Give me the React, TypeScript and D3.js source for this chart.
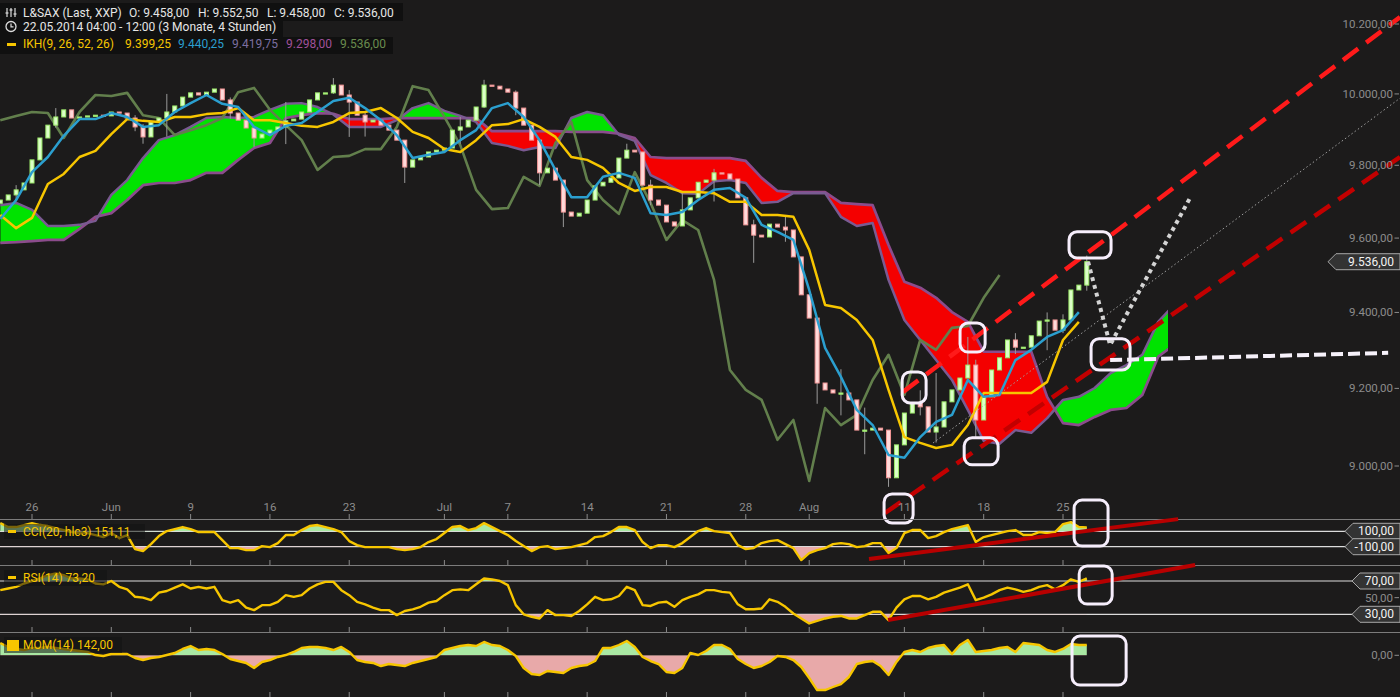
import { useMemo } from 'react'
import * as d3 from 'd3'

// Ichimoku (IKH) chart of the L&S DAX indication, 4h bars, with CCI / RSI / MOM panes below.
// Day index 0 = Mon 26.05.2014; candles are sampled every half session day starting Thu 22.05.

const W = 1400
const H = 697

const CANDLE_FROM = -2
const CANDLE_STEP = 0.5
const FIRST_OPEN = 9695
const closes = [
  9704, 9718, 9732, 9751,
  9815, 9876, 9912, 9935, 9955, 9932, 9935, 9938, 9940, 9938,
  9949, 9946, 9932, 9907, 9879, 9921, 9932, 9949, 9966, 9991,
  10003, 9997, 10005, 10014, 9983, 9946, 9926, 9904, 9876, 9887,
  9898, 9907, 9924, 9929, 9949, 9983, 10003, 10003, 10025, 9997,
  9977, 9940, 9921, 9926, 9912, 9898, 9870, 9795, 9815, 9823,
  9837, 9842, 9848, 9898, 9907, 9926, 9963, 10025, 10022, 10014,
  10005, 9960, 9912, 9870, 9779, 9792, 9759, 9671, 9660, 9668,
  9704, 9743, 9753, 9765, 9820, 9842, 9837, 9745, 9704, 9690,
  9644, 9633, 9677, 9710, 9753, 9759, 9779, 9776, 9762, 9710,
  9636, 9608, 9603, 9638, 9630, 9622, 9549, 9447, 9385, 9214,
  9196, 9188, 9188, 9170, 9092, 9092, 9097, 9092, 8970, 9054,
  9136, 9162, 9152, 9087, 9100, 9165, 9196, 9227, 9261, 9118,
  9178, 9248, 9280, 9327, 9308, 9308, 9338, 9377, 9380, 9353,
  9380, 9460, 9473, 9536,
]
// [day, high, low] for the candles whose shadows stand out
const wicks: [number, number, number][] = [
  [-1, 9745, 9700], [1.5, 9960, 9905], [6.5, 9940, 9895], [7, 9915, 9860],
  [8.5, 10000, 9880], [12.5, 9990, 9930], [14, 9905, 9850], [16, 9977, 9859],
  [19, 10045, 10000], [20, 10011, 9879], [21, 9950, 9880], [23.5, 9862, 9751],
  [27, 9935, 9860], [28.5, 10040, 9960], [30.5, 10010, 9940], [32, 9845, 9745],
  [33.5, 9700, 9630], [37.5, 9860, 9820], [39, 9760, 9690], [41, 9725, 9640],
  [43, 9790, 9700], [45.5, 9650, 9533], [47.5, 9660, 9590], [49.5, 9330, 9160],
  [51, 9250, 9130], [52.5, 9150, 9030], [54, 9040, 8947], [56, 9195, 9130],
  [57, 9240, 9060], [59, 9335, 9240], [59.5, 9275, 9070], [62, 9345, 9290],
  [64, 9400, 9300], [65, 9395, 9345], [66.5, 9552.5, 9458],
]

// Ichimoku lines, one value per session day
const LINE_FROM = -2
const tenkan = [
  9652, 9704,
  9781, 9823, 9882, 9929, 9929, 9946, 9935, 9907, 9912, 9949,
  9974, 9997, 9972, 9963, 9907, 9884, 9910, 9918, 9949, 9980,
  9989, 9960, 9926, 9884, 9820, 9829, 9837, 9870, 9898, 9960,
  9974, 9935, 9870, 9787, 9712, 9712, 9768, 9779, 9765, 9668,
  9663, 9671, 9704, 9732, 9737, 9710, 9636, 9617, 9595, 9460,
  9306, 9230, 9144, 9105, 9028, 9021, 9074, 9113, 9131, 9222,
  9178, 9183, 9274, 9301, 9335, 9353, 9401,
]
const kijun = [
  9663, 9627,
  9655, 9748, 9776, 9823, 9840, 9887, 9929, 9924, 9921, 9935,
  9935, 9943, 9946, 9960, 9926, 9926, 9918, 9910, 9907, 9921,
  9946, 9949, 9960, 9932, 9893, 9876, 9845, 9837, 9870, 9912,
  9915, 9929, 9907, 9879, 9823, 9815, 9793, 9751, 9729, 9740,
  9740, 9726, 9726, 9723, 9699, 9699, 9663, 9663, 9658, 9568,
  9420, 9412, 9380, 9327, 9196, 9074, 9059, 9046, 9054, 9105,
  9188, 9188, 9188, 9188, 9217, 9327, 9375,
]
const chikou = [
  9926, 9938,
  9949, 9946, 9876, 9949, 9997, 9994, 10003, 9940, 9932, 9884,
  9898, 9912, 9932, 10005, 10017, 9955, 9912, 9870, 9787, 9823,
  9826, 9845, 9845, 9907, 10022, 10011, 9935, 9856, 9732, 9679,
  9682, 9768, 9743, 9862, 9921, 9759, 9704, 9666, 9781, 9696,
  9595, 9649, 9622, 9487, 9248, 9196, 9170, 9067, 9118, 8962,
  9149, 9105, 9131, 9222, 9288, 9183, 9327, 9301, 9359, 9364,
  9439, 9500,
]
const senkouA = [
  9690, 9696,
  9677, 9633, 9633, 9636, 9647, 9718, 9759, 9820, 9870, 9884,
  9907, 9932, 9935, 9932, 9935, 9955, 9972, 9974, 9963, 9942,
  9907, 9907, 9907, 9926, 9960, 9974, 9952, 9938, 9921, 9862,
  9854, 9842, 9851, 9848, 9932, 9949, 9940, 9885, 9868, 9773,
  9751, 9723, 9721, 9756, 9759, 9751, 9696, 9699, 9723, 9723,
  9723, 9658, 9633, 9641, 9487, 9380, 9327, 9274, 9222, 9144,
  9064, 9057, 9092, 9085, 9123, 9170, 9178, 9201, 9240, 9261,
  9288, 9375, 9420,
]
const senkouB = [
  9587, 9589,
  9592, 9595, 9595, 9625, 9658, 9668, 9704, 9745, 9751, 9751,
  9759, 9779, 9779, 9815, 9848, 9862, 9932, 9940, 9946, 9944,
  9929, 9929, 9929, 9932, 9932, 9932, 9932, 9932, 9932, 9895,
  9895, 9895, 9895, 9895, 9893, 9893, 9893, 9888, 9876, 9823,
  9820, 9820, 9820, 9820, 9820, 9812, 9765, 9729, 9726, 9726,
  9726, 9696, 9693, 9690, 9581, 9482, 9466, 9439, 9401, 9375,
  9296, 9296, 9296, 9296, 9178, 9110, 9105, 9126, 9144, 9149,
  9183, 9283, 9314,
]

// oscillators, same half-day grid as the candles
const cci = [
  206, 155, 155, 181,
  206, 181, 168, 142, 116, 90, 77, 77, 51, 25,
  77, 12, 51, -131, -157, -66, 38, 103, 129, 155,
  129, 90, 90, 90, -14, -118, -118, -144, -144, -92,
  -105, -53, 51, 51, 116, 168, 181, 155, 129, 90,
  -27, -79, -105, -105, -105, -105, -131, -144, -131, -105,
  -40, -1, 77, 155, 168, 116, 142, 206, 155, 103,
  51, -27, -92, -157, -105, -92, -131, -118, -105, -79,
  -53, 25, 38, 90, 155, 155, 116, -40, -118, -79,
  -79, -105, -53, 25, 103, 142, 103, 90, 77, -79,
  -131, -118, -53, -27, -14, -66, -118, -274, -183, -144,
  -118, -66, -53, -66, -105, -92, -53, -53, -183, -118,
  77, 116, 116, 12, 38, 90, 129, 155, 181, -40,
  25, 51, 77, 103, 116, 51, 51, 90, 77, 90,
  194, 219, 155, 151.11,
]
const rsi = [
  59, 61, 63, 67,
  70, 73, 77, 79, 77, 73, 73, 72, 67, 66,
  70, 63, 60, 51, 50, 47, 56, 58, 62, 66,
  61, 63, 61, 63, 47, 44, 47, 38, 35, 41,
  41, 45, 53, 51, 53, 61, 66, 69, 69, 59,
  53, 45, 42, 38, 35, 35, 29, 34, 36, 39,
  44, 46, 53, 59, 60, 59, 66, 73, 72, 70,
  65, 41, 30, 27, 25, 35, 29, 29, 28, 34,
  42, 51, 47, 48, 52, 63, 59, 41, 40, 44,
  45, 39, 47, 51, 54, 59, 59, 57, 56, 42,
  36, 36, 37, 48, 45, 39, 31, 25, 19, 22,
  25, 27, 28, 25, 25, 29, 33, 33, 23, 38,
  48, 52, 52, 48, 51, 56, 59, 62, 66, 47,
  50, 54, 59, 62, 60, 57, 59, 63, 65, 60,
  65, 72, 69, 73.2,
]
const mom = [
  170, 115, 87, 73,
  101, 101, 115, 101, 87, 73, 59, 46, 4, -10,
  18, 18, 18, -37, -65, -37, -23, 4, 32, 87,
  128, 73, 87, 73, 18, -51, -79, -106, -175, -92,
  -65, -23, 4, 46, 101, 115, 115, 101, 73, 115,
  46, -65, -92, -106, -148, -120, -134, -148, -106, -79,
  -51, -23, 73, 101, 128, 142, 128, 184, 142, 128,
  73, -10, -175, -258, -272, -217, -230, -244, -175, -148,
  -134, -79, 101, 101, 142, 197, 115, -23, -79, -120,
  -230, -244, -175, 32, 4, 59, 142, 142, 87, -51,
  -120, -175, -148, -92, -10, -23, -65, -161, -313, -479,
  -479, -437, -396, -299, -120, -92, -79, -148, -272, -92,
  46, 73, 46, 101, 128, 142, 18, 142, 211, 46,
  59, 73, 101, 115, 46, 170, 156, 142, 73, 46,
  87, 156, 142, 142,
]

const priceTicks = [10200, 10000, 9800, 9600, 9400, 9200, 9000]
const dateTicks: [number, string][] = [
  [0, '26'], [5, 'Jun'], [10, '9'], [15, '16'], [20, '23'], [26, 'Jul'], [30, '7'],
  [35, '14'], [40, '21'], [45, '28'], [49, 'Aug'], [55, '11'], [60, '18'], [65, '25'],
]

// hand-drawn analysis on top of the chart, anchored in [day, value]
const channelTop: [number, number][] = [[54.92, 9191], [86.25, 10220]]
const channelBottom: [number, number][] = [[53.78, 8881], [86.25, 9823]]
const channelMid: [number, number][] = [[56.81, 9059], [86.25, 9988]]
const supportLine: [number, number][] = [[67.97, 9274], [85.5, 9293]]
const forecastPath: [number, number][] = [[66.58, 9536], [67.97, 9314], [73.01, 9710]]
const priceMarks: [number, number, number, number][] = [
  [65.38, 9617, 68.03, 9546], [66.77, 9330, 69.23, 9248], [58.51, 9372, 60.09, 9295],
  [54.86, 9243, 56.37, 9162], [58.77, 9072, 60.91, 9003], [53.72, 8929, 55.55, 8856],
]
const cciMark: [number, number, number, number] = [65.7, 505, 67.84, -92]
const rsiMark: [number, number, number, number] = [66.02, 88, 68.1, 42.3]
const momMark: [number, number, number, number] = [65.57, 266, 68.98, -410]
const cciTrend: [number, number][] = [[52.77, -261], [72.26, 258]]
const rsiTrend: [number, number][] = [[53.97, 23.1], [73.33, 89.2]]

const BG = '#1c1b1b'
const AXIS_TEXT = '#8c8c8c'
const YELLOW = '#f7c600'
const BLUE = '#2b9fcf'
const OLIVE = '#627f4c'
const SPAN_A = '#7a5a92'
const SPAN_B = '#8b4c8c'
const GREEN_CLOUD = '#00e300'
const RED_CLOUD = '#f40000'
const UP_FILL = '#dcffc8'
const UP_LINE = '#9cea6a'
const DOWN_FILL = '#ffdada'
const DOWN_LINE = '#f29696'
const POS_FILL = '#a9e8a3'
const NEG_FILL = '#e8a9a9'
const MARK = '#f6eefc'
const FONT = 'Roboto, "DejaVu Sans", sans-serif'

const de = d3.formatLocale({ decimal: ',', thousands: '.', grouping: [3], currency: ['', ''], minus: '-' })
const fmt = de.format(',.2f')

const x = d3.scaleLinear().domain([0, 65]).range([32, 1063])
const yP = d3.scaleLog().domain([9000, 10200]).range([466, 24])
const yCci = d3.scaleLinear().domain([-100, 100]).range([546.7, 531.3])
const yRsi = d3.scaleLinear().domain([30, 70]).range([614.3, 581])
const yMom = d3.scaleLinear().domain([0, 142]).range([655.3, 645])

const halfDay = (i: number) => CANDLE_FROM + i * CANDLE_STEP

function Badge({ y, tip, text }: { y: number; tip: number; text: string }) {
  const pts = [[tip, y], [tip + 8, y - 8], [1400, y - 8], [1400, y + 8], [tip + 8, y + 8]]
  return (
    <g>
      <polygon points={pts.map((p) => p.join(',')).join(' ')} fill="#333" stroke="#a8a8a8" strokeWidth={1} />
      <text x={1394} y={y + 4} textAnchor="end" fill="#f2f2f2" fontSize={12}>
        {text}
      </text>
    </g>
  )
}

function Mark({ x0, y0, x1, y1 }: { x0: number; y0: number; x1: number; y1: number }) {
  return (
    <rect x={x0} y={y0} width={x1 - x0} height={y1 - y0} rx={8} fill="none" stroke={MARK} strokeWidth={3} />
  )
}

interface PaneProps {
  id: string
  values: number[]
  y: d3.ScaleLinear<number, number>
  top: number
  bottom: number
  hi: number
  lo: number
}

function Pane({ id, values, y, top, bottom, hi, lo }: PaneProps) {
  const line = d3.line<number>().x((_, i) => x(halfDay(i))).y((v) => y(v))(values) ?? ''
  const upArea = d3.area<number>().x((_, i) => x(halfDay(i))).y0(y(hi)).y1((v) => y(v))(values) ?? ''
  const dnArea = d3.area<number>().x((_, i) => x(halfDay(i))).y0(y(lo)).y1((v) => y(v))(values) ?? ''
  return (
    <g>
      <defs>
        <clipPath id={`${id}-up`}>
          <rect x={0} y={top} width={W} height={y(hi) - top} />
        </clipPath>
        <clipPath id={`${id}-dn`}>
          <rect x={0} y={y(lo)} width={W} height={bottom - y(lo)} />
        </clipPath>
      </defs>
      <path d={upArea} fill={POS_FILL} clipPath={`url(#${id}-up)`} />
      <path d={dnArea} fill={NEG_FILL} clipPath={`url(#${id}-dn)`} />
      <path d={line} fill="none" stroke={YELLOW} strokeWidth={2.4} strokeLinejoin="round" />
    </g>
  )
}

export default function App() {
  const cloud = useMemo(() => {
    const idx = d3.range(senkouA.length)
    const cx = (i: number) => x(LINE_FROM + i)
    const area = (arr: number[], base: number) =>
      d3.area<number>().x(cx).y0(base).y1((i) => yP(arr[i]))(idx) ?? ''
    const line = (arr: number[]) => d3.line<number>().x(cx).y((i) => yP(arr[i]))(idx) ?? ''
    return {
      aboveA: area(senkouA, 0),
      belowA: area(senkouA, H),
      aboveB: area(senkouB, 0),
      belowB: area(senkouB, H),
      lineA: line(senkouA),
      lineB: line(senkouB),
    }
  }, [])

  const dailyLine = (arr: number[]) =>
    d3.line<number>().x((_, i) => x(LINE_FROM + i)).y((v) => yP(v))(arr) ?? ''
  const pricePath = (pts: [number, number][]) =>
    d3.line<[number, number]>().x((p) => x(p[0])).y((p) => yP(p[1]))(pts) ?? ''
  const panePath = (pts: [number, number][], y: d3.ScaleLinear<number, number>) =>
    d3.line<[number, number]>().x((p) => x(p[0])).y((p) => y(p[1]))(pts) ?? ''

  const bodyW = 4

  return (
    <svg
      width={W}
      height={H}
      viewBox={`0 0 ${W} ${H}`}
      style={{ position: 'fixed', left: 0, top: 0, display: 'block', background: BG }}
      fontFamily={FONT}
    >
      <rect width={W} height={H} fill={BG} />
      <defs>
        <clipPath id="cloud-green">
          <path d={cloud.belowA} />
        </clipPath>
        <clipPath id="cloud-red">
          <path d={cloud.belowB} />
        </clipPath>
        <clipPath id="main-clip">
          <rect x={0} y={0} width={1168} height={519} />
        </clipPath>
      </defs>

      {/* main pane */}
      <g clipPath="url(#main-clip)">
        <path d={cloud.aboveB} fill={GREEN_CLOUD} clipPath="url(#cloud-green)" />
        <path d={cloud.aboveA} fill={RED_CLOUD} clipPath="url(#cloud-red)" />
        <path d={cloud.lineB} fill="none" stroke={SPAN_B} strokeWidth={2.7} strokeLinejoin="round" />
        <path d={cloud.lineA} fill="none" stroke={SPAN_A} strokeWidth={2.5} strokeLinejoin="round" />
        <path d={dailyLine(chikou)} fill="none" stroke={OLIVE} strokeWidth={2.6} strokeLinejoin="round" />

        {wicks.map(([d, hi, lo]) => (
          <line key={`w${d}`} x1={x(d)} x2={x(d)} y1={yP(hi)} y2={yP(lo)} stroke="#9a9a9a" strokeWidth={1} />
        ))}
        {closes.map((c, i) => {
          const o = i === 0 ? FIRST_OPEN : closes[i - 1]
          const up = c >= o
          const top = Math.min(yP(o), yP(c))
          const h = Math.max(1.2, Math.abs(yP(o) - yP(c)))
          return (
            <rect
              key={`c${i}`}
              x={x(halfDay(i)) - bodyW / 2}
              y={top}
              width={bodyW}
              height={h}
              fill={up ? UP_FILL : DOWN_FILL}
              stroke={up ? UP_LINE : DOWN_LINE}
              strokeWidth={1}
            />
          )
        })}

        <path d={dailyLine(kijun)} fill="none" stroke={YELLOW} strokeWidth={2.5} strokeLinejoin="round" />
        <path d={dailyLine(tenkan)} fill="none" stroke={BLUE} strokeWidth={2.5} strokeLinejoin="round" />
      </g>

      {/* analysis drawings */}
      <path d={pricePath(channelMid)} stroke="#a0a0a0" strokeWidth={1} strokeDasharray="1.5,2.5" fill="none" />
      <path d={pricePath(channelTop)} stroke="#ff1a1a" strokeWidth={4.5} strokeDasharray="19,10" fill="none" />
      <path d={pricePath(channelBottom)} stroke="#c20000" strokeWidth={4.5} strokeDasharray="19,10" fill="none" />
      <path d={pricePath(supportLine)} stroke="#f6f1fa" strokeWidth={4} strokeDasharray="12,5" fill="none" />
      <path d={pricePath(forecastPath)} stroke="#d4d4d4" strokeWidth={4} strokeDasharray="4,4" fill="none" />
      {priceMarks.map(([d0, p0, d1, p1], i) => (
        <Mark key={`m${i}`} x0={x(d0)} y0={yP(p0)} x1={x(d1)} y1={yP(p1)} />
      ))}

      {/* price axis */}
      {priceTicks.map((p) => (
        <g key={p}>
          <text x={1393} y={yP(p) + 4} textAnchor="end" fill={AXIS_TEXT} fontSize={11.5}>
            {fmt(p)}
          </text>
          <line x1={1394.5} x2={1399} y1={yP(p)} y2={yP(p)} stroke={AXIS_TEXT} />
        </g>
      ))}
      <Badge y={yP(closes[closes.length - 1])} tip={1328} text={fmt(closes[closes.length - 1])} />

      {/* date axis */}
      {dateTicks.map(([d, label]) => (
        <g key={label}>
          <text x={x(d)} y={511} textAnchor="middle" fill={AXIS_TEXT} fontSize={11.5}>
            {label}
          </text>
          {[519, 565, 632, 697].map((yb) => (
            <line key={yb} x1={x(d)} x2={x(d)} y1={yb - 5} y2={yb} stroke="#8a8a8a" />
          ))}
        </g>
      ))}

      {/* pane separators */}
      {[519, 565, 632].map((yy) => (
        <line key={yy} x1={0} x2={W} y1={yy + 0.5} y2={yy + 0.5} stroke="#7c7c7c" strokeWidth={1} />
      ))}

      {/* CCI */}
      {[100, -100].map((v) => (
        <line key={v} x1={0} x2={1350} y1={yCci(v)} y2={yCci(v)} stroke="#dcdcdc" strokeWidth={1.2} />
      ))}
      <Pane id="cci" values={cci} y={yCci} top={519} bottom={565} hi={100} lo={-100} />
      <path d={panePath(cciTrend, yCci)} stroke="#b80000" strokeWidth={4} fill="none" />
      <Mark x0={x(cciMark[0])} y0={yCci(cciMark[1])} x1={x(cciMark[2])} y1={yCci(cciMark[3])} />
      <Badge y={yCci(100)} tip={1345} text={fmt(100)} />
      <Badge y={yCci(-100)} tip={1345} text={fmt(-100)} />

      {/* RSI */}
      {[70, 30].map((v) => (
        <line key={v} x1={0} x2={1356} y1={yRsi(v)} y2={yRsi(v)} stroke="#dcdcdc" strokeWidth={1.2} />
      ))}
      <Pane id="rsi" values={rsi} y={yRsi} top={565} bottom={632} hi={70} lo={30} />
      <path d={panePath(rsiTrend, yRsi)} stroke="#b80000" strokeWidth={4} fill="none" />
      <Mark x0={x(rsiMark[0])} y0={yRsi(rsiMark[1])} x1={x(rsiMark[2])} y1={yRsi(rsiMark[3])} />
      <Badge y={yRsi(70)} tip={1352} text={fmt(70)} />
      <Badge y={yRsi(30)} tip={1352} text={fmt(30)} />
      <text x={1393} y={yRsi(50) + 4} textAnchor="end" fill={AXIS_TEXT} fontSize={11.5}>
        {fmt(50)}
      </text>
      <line x1={1394.5} x2={1399} y1={yRsi(50)} y2={yRsi(50)} stroke={AXIS_TEXT} />

      {/* MOM */}
      <Pane id="mom" values={mom} y={yMom} top={632} bottom={697} hi={0} lo={0} />
      <Mark x0={x(momMark[0])} y0={yMom(momMark[1])} x1={x(momMark[2])} y1={yMom(momMark[3])} />
      <text x={1393} y={yMom(0) + 4} textAnchor="end" fill={AXIS_TEXT} fontSize={11.5}>
        {fmt(0)}
      </text>
      <line x1={1394.5} x2={1399} y1={yMom(0)} y2={yMom(0)} stroke={AXIS_TEXT} />

      {/* pane legends */}
      <rect x={4} y={524} width={141} height={15} fill="rgba(18,18,18,0.55)" />
      <rect x={8} y={530} width={8} height={3} fill={YELLOW} />
      <text x={23} y={535.5} fill={YELLOW} fontSize={12}>CCI(20, hlc3) 151,11</text>
      <rect x={4} y={570} width={103} height={16} fill="rgba(18,18,18,0.55)" />
      <rect x={8} y={576} width={8} height={3} fill={YELLOW} />
      <text x={23} y={582} fill={YELLOW} fontSize={12}>RSI(14) 73,20</text>
      <rect x={4} y={637} width={118} height={16} fill="rgba(18,18,18,0.55)" />
      <rect x={7} y={640} width={12} height={11} fill={YELLOW} />
      <text x={23} y={649} fill={YELLOW} fontSize={12}>MOM(14) 142,00</text>

      {/* header legend */}
      <rect x={0} y={3} width={403} height={18} fill="rgba(14,14,14,0.85)" />
      <rect x={0} y={21} width={283} height={16} fill="rgba(14,14,14,0.85)" />
      <rect x={0} y={37} width={393} height={17} fill="rgba(14,14,14,0.85)" />
      <g stroke="#dcdcdc" strokeWidth={1.2}>
        <line x1={7} x2={7} y1={8} y2={17} />
        <line x1={11} x2={11} y1={8} y2={17} />
        <line x1={15} x2={15} y1={8} y2={17} />
        <line x1={5.5} x2={8.5} y1={13} y2={13} />
        <line x1={9.5} x2={12.5} y1={10} y2={10} />
        <line x1={13.5} x2={16.5} y1={14} y2={14} />
      </g>
      <g fill="#e6e6e6" fontSize={12}>
        <text x={23} y={16.5}>L&amp;SAX (Last, XXP)</text>
        <text x={129} y={16.5}>O: 9.458,00</text>
        <text x={198} y={16.5}>H: 9.552,50</text>
        <text x={267} y={16.5}>L: 9.458,00</text>
        <text x={334} y={16.5}>C: 9.536,00</text>
        <text x={23} y={31}>22.05.2014 04:00 - 12:00 (3 Monate, 4 Stunden)</text>
      </g>
      <circle cx={11} cy={26.5} r={5} fill="none" stroke="#dcdcdc" strokeWidth={1.3} />
      <path d="M11 23.5 V26.8 H13.5" fill="none" stroke="#dcdcdc" strokeWidth={1.2} />
      <rect x={7} y={43} width={9} height={3} fill={YELLOW} />
      <g fontSize={12}>
        <text x={23} y={48} fill={YELLOW}>IKH(9, 26, 52, 26)</text>
        <text x={125} y={48} fill={YELLOW}>9.399,25</text>
        <text x={178} y={48} fill={BLUE}>9.440,25</text>
        <text x={232} y={48} fill="#7c6fa0">9.419,75</text>
        <text x={286} y={48} fill="#a0509a">9.298,00</text>
        <text x={340} y={48} fill="#6a8c4e">9.536,00</text>
      </g>
    </svg>
  )
}
